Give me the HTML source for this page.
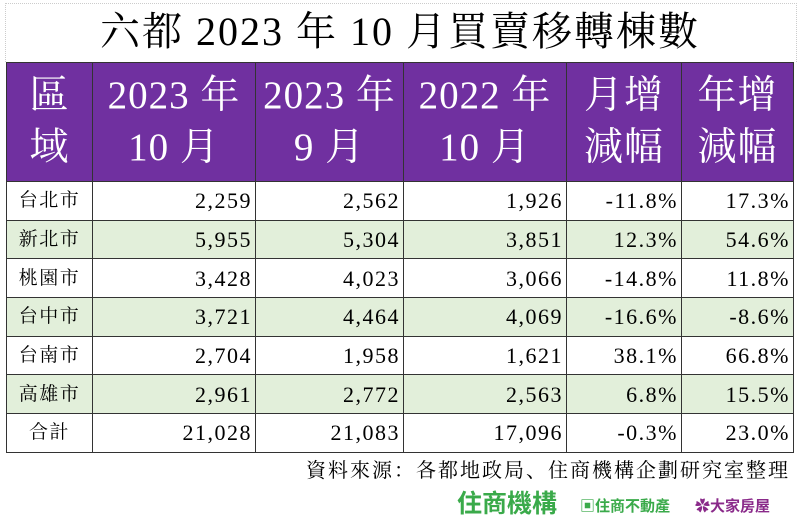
<!DOCTYPE html>
<html><head><meta charset="utf-8"><style>
body{margin:0;width:800px;height:526px;background:#fff;overflow:hidden;position:relative;font-family:"Liberation Serif","Noto Serif CJK SC",serif;}
.title{position:absolute;left:0;top:8px;width:800px;text-align:center;font-size:40px;line-height:48px;color:#000;letter-spacing:2px;white-space:nowrap;}
table{position:absolute;left:6px;top:62px;border-collapse:collapse;table-layout:fixed;}
td{border:1px solid #333;padding:0 3px 0 0;font-size:22px;text-align:right;height:37.7px;line-height:37px;letter-spacing:1.5px;white-space:nowrap;overflow:hidden;}
th{background:#7030a0;color:#fff;font-weight:normal;font-size:39px;line-height:52px;height:118px;border:1px solid #333;padding:0;letter-spacing:1px;white-space:nowrap;overflow:hidden;}
td.c{text-align:center;padding:0;font-size:19px;}
tr.g td{background:#e2efda;}
.src{position:absolute;right:10px;top:454px;font-size:20px;letter-spacing:2px;white-space:nowrap;}
.logo{position:absolute;top:486px;font-family:"Liberation Sans","Noto Sans CJK TC",sans-serif;font-weight:bold;white-space:nowrap;}
</style></head><body>
<div style="position:absolute;left:5px;top:3px;width:790px;height:58px;border:1px dotted #ccc;border-bottom:none"></div>
<div class="title">六都 2023 年 10 月買賣移轉棟數</div>
<table>
<colgroup><col style="width:86px"><col style="width:163px"><col style="width:148px"><col style="width:163px"><col style="width:115px"><col style="width:112px"></colgroup>
<tr><th>區<br>域</th><th>2023 年<br>10 月</th><th>2023 年<br>9 月</th><th>2022 年<br>10 月</th><th>月增<br>減幅</th><th>年增<br>減幅</th></tr>
<tr><td class="c">台北市</td><td>2,259</td><td>2,562</td><td>1,926</td><td>-11.8%</td><td>17.3%</td></tr>
<tr class="g"><td class="c">新北市</td><td>5,955</td><td>5,304</td><td>3,851</td><td>12.3%</td><td>54.6%</td></tr>
<tr><td class="c">桃園市</td><td>3,428</td><td>4,023</td><td>3,066</td><td>-14.8%</td><td>11.8%</td></tr>
<tr class="g"><td class="c">台中市</td><td>3,721</td><td>4,464</td><td>4,069</td><td>-16.6%</td><td>-8.6%</td></tr>
<tr><td class="c">台南市</td><td>2,704</td><td>1,958</td><td>1,621</td><td>38.1%</td><td>66.8%</td></tr>
<tr class="g"><td class="c">高雄市</td><td>2,961</td><td>2,772</td><td>2,563</td><td>6.8%</td><td>15.5%</td></tr>
<tr><td class="c">合計</td><td>21,028</td><td>21,083</td><td>17,096</td><td>-0.3%</td><td>23.0%</td></tr>
</table>
<div class="src">資料來源：各都地政局、住商機構企劃研究室整理</div>
<div class="logo" style="left:457px;font-size:25px;color:#3aaa4a;top:484px">住商機構</div>
<div class="logo" style="left:580px;font-size:15px;color:#3aaa4a;top:495px">▣住商不動產</div>
<div class="logo" style="left:695px;font-size:15px;color:#8a2a8a;top:495px">✿大家房屋</div>
</body></html>
